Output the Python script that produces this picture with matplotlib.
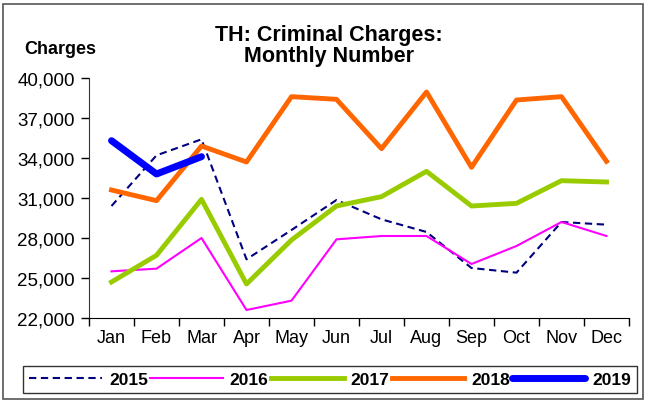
import matplotlib
matplotlib.use("Agg")
import matplotlib.pyplot as plt
from matplotlib.patches import Rectangle
from matplotlib.ticker import FuncFormatter, FixedLocator

plt.rcParams['font.family'] = ['Liberation Sans', 'DejaVu Sans']

months = ["Jan", "Feb", "Mar", "Apr", "May", "Jun", "Jul", "Aug", "Sep", "Oct", "Nov", "Dec"]
s2015 = [30400, 34200, 35400, 26400, 28600, 30850, 29400, 28450, 25750, 25400, 29200, 29000]
s2016 = [25500, 25700, 28000, 22600, 23300, 27900, 28150, 28150, 26050, 27400, 29200, 28150]
s2017 = [24700, 26700, 30900, 24550, 27850, 30400, 31100, 33000, 30400, 30600, 32300, 32200]
s2018 = [31600, 30800, 34900, 33700, 38600, 38400, 34700, 38950, 33300, 38350, 38600, 33750]
s2019 = [35300, 32800, 34100]
yticks = [22000, 25000, 28000, 31000, 34000, 37000, 40000]

W, H = 646, 402
fig = plt.figure(figsize=(W / 100, H / 100), dpi=100)
fig.patches.append(Rectangle((3 / W, 2 / H), 640 / W, 395 / H, transform=fig.transFigure,
                             fill=False, edgecolor='#555555', linewidth=1.2))

ax = fig.add_axes([89 / W, 1 - 319 / H, 540 / W, 240 / H])
x = list(range(len(months)))
ax.plot(x, s2015, color='#000080', lw=1.5, ls=(0, (3.5, 2.2)), label='2015')
ax.plot(x, s2016, color='#FF00FF', lw=1.5, label='2016')
ax.plot(x, s2017, color='#99CC00', lw=3.5, label='2017')
ax.plot(x, s2018, color='#FF6600', lw=3.5, label='2018')
ax.plot(x[:len(s2019)], s2019, color='#0000FF', lw=5, solid_capstyle='round', label='2019')

ax.set_xlim(-0.5, 11.5)
ax.set_ylim(22000, 40000)
ax.set_yticks(yticks)
ax.yaxis.set_major_formatter(FuncFormatter(lambda v, p: f"{int(v):,}"))
ax.set_xticks(x)
ax.set_xticklabels(months)
ax.xaxis.set_minor_locator(FixedLocator([i - 0.5 for i in range(13)]))
ax.tick_params(axis='x', which='major', length=0, pad=8, labelsize=13)
ax.tick_params(axis='x', which='minor', length=6, direction='out', width=1)
ax.tick_params(axis='y', length=6, direction='out', labelsize=13.5, pad=4, width=1)
for s in ['top', 'right']:
    ax.spines[s].set_visible(False)
ax.spines['left'].set_color('#333333')
ax.spines['bottom'].set_color('#000000')

fig.text(329 / W, 1 - 46 / H, "TH: Criminal Charges:\nMonthly Number", ha='center', va='center',
         fontsize=15.5, fontweight='bold', linespacing=1.0)
fig.text(60 / W, 1 - 50 / H, "Charges", ha='center', va='center', fontsize=13, fontweight='bold')

leg = fig.legend(loc='lower left', bbox_to_anchor=(23 / W, 8 / H, 614 / W, 31 / H), mode='expand',
                 ncol=5, frameon=True, fancybox=False, edgecolor='black', handlelength=4.2,
                 prop={'weight': 'bold', 'size': 12.5}, borderaxespad=0, handletextpad=0.4,
                 columnspacing=1.0, borderpad=0.35)
leg.get_frame().set_linewidth(1)

fig.savefig("out.png", dpi=100)
